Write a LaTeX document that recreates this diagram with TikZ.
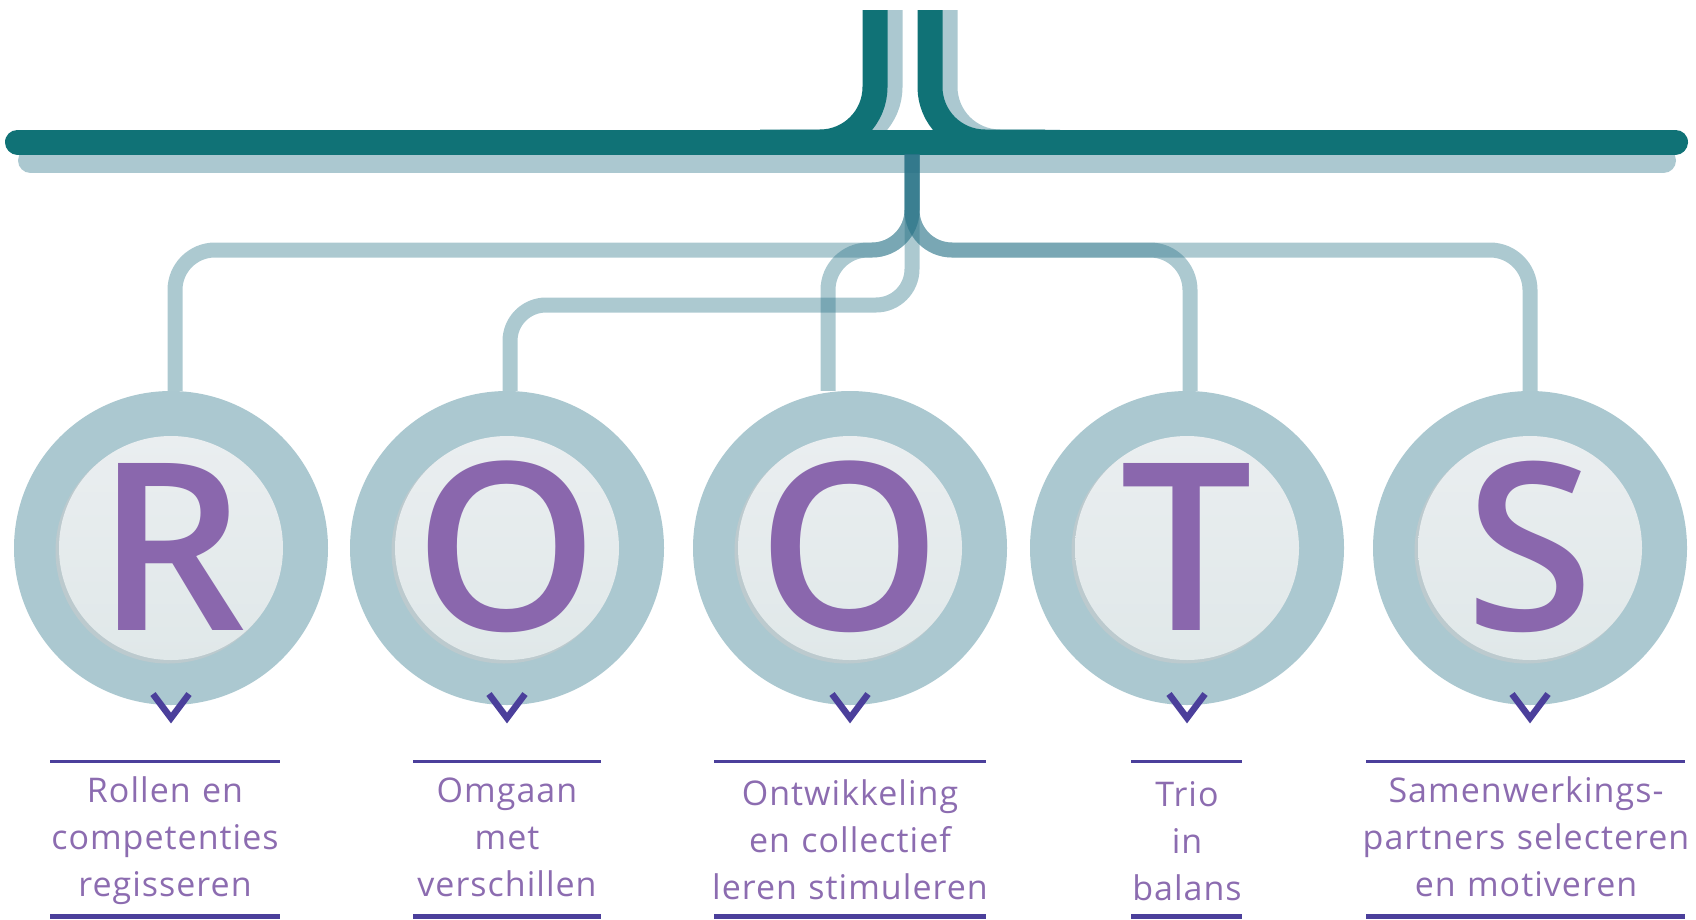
\documentclass[tikz,border=0pt]{standalone}
\usepackage{fontspec}
\newfontfamily\labelfont{Open Sans}[LetterSpace=3]
\newcommand\bigweight{}
\IfFontExistsTF{Open Sans Semibold}{\newfontfamily\bigfont{Open Sans Semibold}}{%
  \IfFontExistsTF{Open Sans SemiBold}{\newfontfamily\bigfont{Open Sans SemiBold}}{%
    \newfontfamily\bigfont{Open Sans}\renewcommand\bigweight{\bfseries}}}
\definecolor{tealdark}{RGB}{16,114,118}
\definecolor{ringc}{RGB}{171,200,208}
\definecolor{conn}{RGB}{41,115,135}
\definecolor{letterc}{RGB}{138,103,173}
\definecolor{labelc}{RGB}{140,108,176}
\definecolor{indigo}{RGB}{75,63,155}
\definecolor{innertop}{RGB}{234,238,240}
\definecolor{innerbot}{RGB}{224,232,233}
\definecolor{innersh}{RGB}{188,202,206}
\begin{document}
\begin{tikzpicture}[x=1pt,y=-1pt,
  darkline/.style={draw=tealdark,line width=25pt},
  shadowline/.style={draw=ringc,line width=25pt},
  connector/.style={draw=conn,draw opacity=0.39,line width=15pt,rounded corners=40pt},
  ring/.style={circle,fill=ringc,minimum size=314pt,inner sep=0pt},
  innerdisc/.style={circle,top color=innertop,bottom color=innerbot,minimum size=224pt,inner sep=0pt},
  innershadow/.style={circle,fill=innersh,minimum size=225pt,inner sep=0pt},
  letter/.style={anchor=base,inner sep=0pt,text=letterc,font=\bigfont\bigweight\fontsize{234}{234}\selectfont},
  chev/.style={draw=indigo,line width=6.5pt},
  rule/.style={draw=indigo,line width=3pt},
  rulebot/.style={draw=indigo,line width=5pt},
  lbl/.style={anchor=base,inner sep=0pt,text=labelc,text width=360pt,align=center,font=\labelfont\fontsize{34}{47}\selectfont}]
\useasboundingbox (0,0) rectangle (1696,919);
% top trunk shadows
\draw[shadowline,line cap=round] (30.5,160.5) -- (1663.5,160.5);
\draw[shadowline,rounded corners=55pt] (890,10) -- (890,142) -- (780,142);
\draw[shadowline,rounded corners=55pt] (945,10) -- (945,142) -- (1060,142);
% top trunk
\draw[darkline,line cap=round] (17.5,142) -- (1675.5,142);
\draw[darkline,rounded corners=55pt] (875,10) -- (875,142) -- (760,142);
\draw[darkline,rounded corners=55pt] (930,10) -- (930,142) -- (1045,142);
% circles
\foreach \cx/\n/\L in {171/1/R, 507/2/O, 850/3/O, 1187/4/T, 1530/5/S} {
  \node[ring] (ring\n) at (\cx,548) {};
  \node[innershadow] (sh\n) at (\cx-3,551) {};
  \node[innerdisc] (in\n) at (\cx,548) {};
  \node[letter] (let\n) at (\cx,630) {\L};
  \draw[chev] (\cx-18,694) -- (\cx,718) -- (\cx+18,694);
}
% connectors
\coordinate (hub) at (912,154);
\draw[connector] (hub) -- (912,250) -- (175,250) -- ([xshift=4pt]ring1.north);
\draw[connector,rounded corners=36pt] (hub) -- (912,305) -- (510,305) -- ([xshift=3pt]ring2.north);
\draw[connector] (hub) -- (912,250) -- (828,250) -- ([xshift=-22pt]ring3.north);
\draw[connector] (hub) -- (912,250) -- (1190,250) -- ([xshift=3pt]ring4.north);
\draw[connector] (hub) -- (912,250) -- (1530,250) -- (ring5.north);
% labels
\node[lbl] (t1) at (165,802) {Rollen en\\competenties\\regisseren};
\node[lbl] (t2) at (507,802) {Omgaan\\met\\verschillen};
\node[lbl] (t3) at (850,805) {Ontwikkeling\\en collectief\\leren stimuleren};
\node[lbl] (t4) at (1187,806) {Trio\\in\\balans};
\node[lbl] (t5) at (1526,802) {Samenwerkings-\\partners selecteren\\en motiveren};
\draw[rule] (50,761) -- (280,761);
\draw[rule] (413,761) -- (601,761);
\draw[rule] (714,761) -- (986,761);
\draw[rule] (1131,761) -- (1242,761);
\draw[rule] (1366,761) -- (1685,761);
\draw[rulebot] (50,916.5) -- (280,916.5);
\draw[rulebot] (413,916.5) -- (601,916.5);
\draw[rulebot] (714,916.5) -- (986,916.5);
\draw[rulebot] (1131,916.5) -- (1242,916.5);
\draw[rulebot] (1366,916.5) -- (1685,916.5);
\end{tikzpicture}
\end{document}
